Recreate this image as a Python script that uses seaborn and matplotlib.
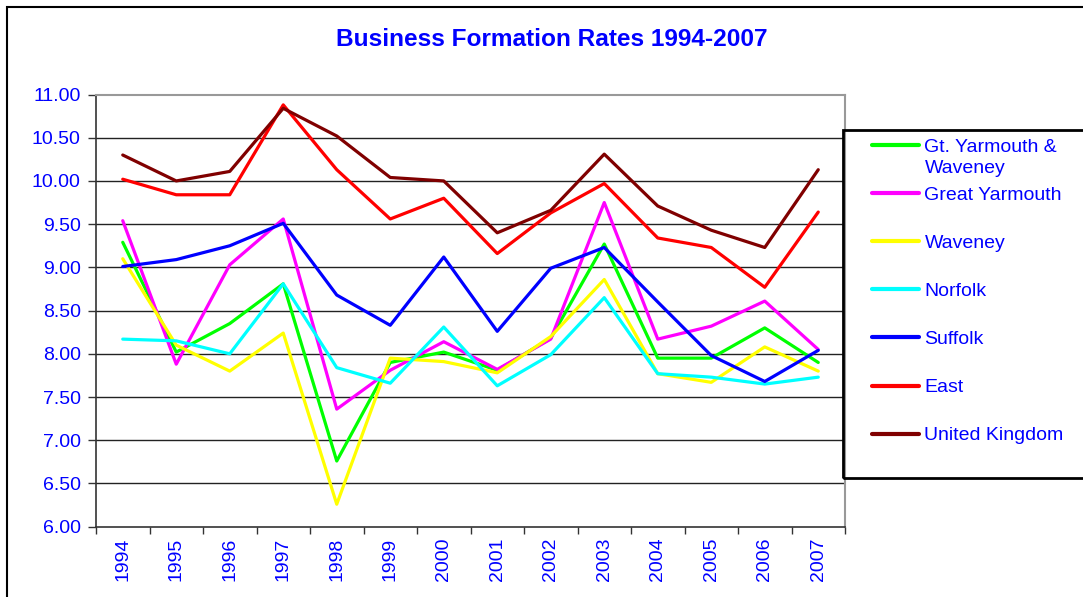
import matplotlib
matplotlib.use("Agg")
import matplotlib.pyplot as plt
from matplotlib.patches import Rectangle
import seaborn as sns
import pandas as pd

years = ["1994", "1995", "1996", "1997", "1998", "1999", "2000",
         "2001", "2002", "2003", "2004", "2005", "2006", "2007"]

gt_yarmouth_waveney = [9.29, 8.02, 8.35, 8.81, 6.76, 7.90, 8.02, 7.81, 8.18, 9.27, 7.95, 7.95, 8.30, 7.90]
great_yarmouth = [9.54, 7.88, 9.03, 9.56, 7.36, 7.81, 8.14, 7.82, 8.17, 9.75, 8.17, 8.32, 8.61, 8.05]
waveney = [9.10, 8.10, 7.80, 8.24, 6.26, 7.95, 7.91, 7.78, 8.20, 8.86, 7.77, 7.67, 8.08, 7.80]
norfolk = [8.17, 8.15, 8.00, 8.81, 7.84, 7.66, 8.31, 7.63, 7.99, 8.65, 7.77, 7.73, 7.65, 7.73]
suffolk = [9.01, 9.09, 9.25, 9.51, 8.68, 8.33, 9.12, 8.26, 8.99, 9.23, 8.60, 7.98, 7.68, 8.04]
east = [10.02, 9.84, 9.84, 10.88, 10.13, 9.56, 9.80, 9.16, 9.63, 9.97, 9.34, 9.23, 8.77, 9.64]
united_kingdom = [10.30, 10.00, 10.11, 10.84, 10.52, 10.04, 10.00, 9.40, 9.66, 10.31, 9.71, 9.43, 9.23, 10.13]

series_names = ["Gt. Yarmouth & Waveney", "Great Yarmouth", "Waveney", "Norfolk",
                "Suffolk", "East", "United Kingdom"]
series_values = [gt_yarmouth_waveney, great_yarmouth, waveney, norfolk,
                 suffolk, east, united_kingdom]
colors = ["#00FF00", "#FF00FF", "#FFFF00", "#00FFFF", "#0000FF", "#FF0000", "#800000"]

y_ticks = [6.0, 6.5, 7.0, 7.5, 8.0, 8.5, 9.0, 9.5, 10.0, 10.5, 11.0]

rows = []
for name, vals in zip(series_names, series_values):
    for i, (yr, v) in enumerate(zip(years, vals)):
        rows.append({"idx": i, "year": yr, "rate": v, "series": name})
df = pd.DataFrame(rows)

sns.set_theme(style="white")
plt.rcParams["font.family"] = ["Liberation Sans", "DejaVu Sans"]

W, H = 1083, 597
fig = plt.figure(figsize=(W / 100, H / 100), dpi=100)
ax = fig.add_axes([96 / W, 1 - 526.7 / H, (845 - 96) / W, (526.7 - 94.5) / H])

blue = "#0000FF"

sns.lineplot(data=df, x="idx", y="rate", hue="series", hue_order=series_names,
             palette=dict(zip(series_names, colors)), linewidth=2.3, ax=ax,
             legend=False, sort=False)

ax.set_xlim(-0.5, len(years) - 0.5)
ax.set_ylim(6.0, 11.0)
ax.set_yticks(y_ticks)
ax.set_yticklabels([f"{t:.2f}" for t in y_ticks], color=blue, fontsize=14)
ax.set_xticks(range(len(years)))
ax.set_xticklabels(years, rotation=90, color=blue, fontsize=14)
ax.tick_params(axis="x", length=0, pad=8)
ax.tick_params(axis="y", length=6, width=1, color="#333333", direction="out", left=True, pad=5)
# category boundary ticks on x axis
ax.set_xticks([i - 0.5 for i in range(len(years) + 1)], minor=True)
ax.tick_params(axis="x", which="minor", length=5, width=1, color="#333333", direction="out", bottom=True)
ax.set_xlabel("")
ax.set_ylabel("")

for t in y_ticks[1:-1]:
    ax.axhline(t, color="#222222", linewidth=1.0, zorder=0)

for side in ["top", "right"]:
    ax.spines[side].set_color("#999999")
    ax.spines[side].set_linewidth(1.5)
for side in ["left", "bottom"]:
    ax.spines[side].set_color("#333333")
    ax.spines[side].set_linewidth(1.2)

fig.text(552 / W, 1 - 39 / H, "Business Formation Rates 1994-2007", ha="center", va="center",
         color=blue, fontsize=17.6, fontweight="bold")

# outer chart border
fig.patches.append(Rectangle((7 / W, -0.05), 1.2, 1 - 7 / H + 0.05, transform=fig.transFigure,
                             fill=False, edgecolor="black", linewidth=1.5, zorder=0))

# legend
handles = ax.get_lines()[:len(series_names)]
labels = ["Gt. Yarmouth &"] + series_names[1:]
leg = fig.legend(handles, labels, loc="upper left", bbox_to_anchor=(872 / W, 1 - 138 / H),
                 bbox_transform=fig.transFigure, frameon=False, borderpad=0, borderaxespad=0,
                 fontsize=14, labelcolor=blue, handlelength=2.4, handletextpad=0.3,
                 labelspacing=1.57)
for h in leg.legend_handles:
    h.set_linewidth(3)
fig.text(925 / W, 1 - 169 / H, "Waveney", color=blue, fontsize=14, ha="left", va="center")
fig.patches.append(Rectangle((843 / W, 1 - 478 / H), 0.3, (478 - 130) / H, transform=fig.transFigure,
                             fill=False, edgecolor="black", linewidth=2, zorder=5))

fig.savefig("out.png", dpi=100)
